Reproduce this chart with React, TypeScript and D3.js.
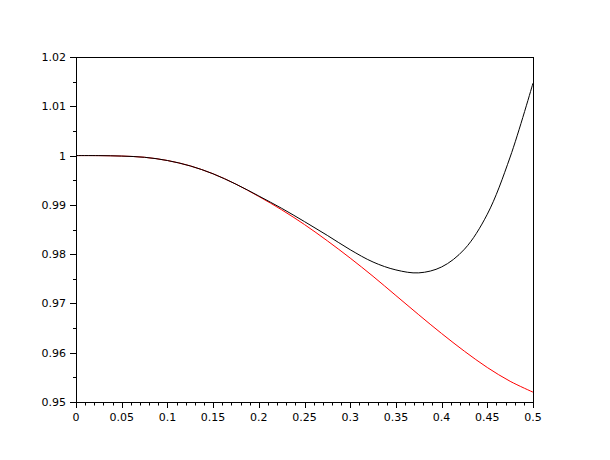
import React from "react";
import * as d3 from "d3";

const xs = [0, 0.025, 0.05, 0.075, 0.1, 0.125, 0.15, 0.175, 0.2, 0.225, 0.25, 0.275, 0.3, 0.325, 0.35, 0.375, 0.4, 0.425, 0.45, 0.475, 0.5];
const blackValues = [1.0, 0.99999, 0.9999, 0.99965, 0.999, 0.9979, 0.9963, 0.9942, 0.9918, 0.9893, 0.9866, 0.9838, 0.9809, 0.9784, 0.9768, 0.9762, 0.9774, 0.9810, 0.9881, 0.9997, 1.0147];
const redValues = [1.0, 0.99999, 0.9999, 0.99965, 0.999, 0.9979, 0.9963, 0.9942, 0.9917, 0.989, 0.986, 0.9827, 0.9792, 0.9755, 0.9716, 0.9677, 0.9639, 0.9603, 0.957, 0.9542, 0.952];
const xTicks = [0, 0.05, 0.1, 0.15, 0.2, 0.25, 0.3, 0.35, 0.4, 0.45, 0.5];
const yTicks = [0.95, 0.96, 0.97, 0.98, 0.99, 1, 1.01, 1.02];

export default function App() {
  const W = 610, H = 460;
  const left = 76, right = 533, top = 57, bottom = 402;
  const x = d3.scaleLinear().domain([0, 0.5]).range([left, right]);
  const y = d3.scaleLinear().domain([0.95, 1.02]).range([bottom, top]);
  const line = d3
    .line<number>()
    .x((_, i) => x(xs[i]))
    .y((d) => y(d))
    .curve(d3.curveCatmullRom.alpha(0.5));
  const xMinor = d3.range(0, 0.5001, 0.01);
  const yMinor = d3.range(0.95, 1.0201, 0.005);
  const font = "DejaVu Sans, sans-serif";
  return (
    <svg width={W} height={H} style={{ position: "absolute", left: 0, top: 0, background: "#fff" }}>
      <rect x={0} y={0} width={W} height={H} fill="#fff" />
      <path d={line(redValues) || ""} fill="none" stroke="#ff0000" strokeWidth={1} />
      <path d={line(blackValues) || ""} fill="none" stroke="#000" strokeWidth={1} />
      <rect x={left + 0.5} y={top + 0.5} width={right - left} height={bottom - top} fill="none" stroke="#000" strokeWidth={1} />
      {xMinor.map((v, i) => (
        <line key={"xm" + i} x1={Math.round(x(v)) + 0.5} x2={Math.round(x(v)) + 0.5} y1={bottom + 0.5} y2={bottom + 3.5} stroke="#000" />
      ))}
      {xTicks.map((v, i) => (
        <g key={"xt" + i}>
          <line x1={Math.round(x(v)) + 0.5} x2={Math.round(x(v)) + 0.5} y1={bottom + 0.5} y2={bottom + 6} stroke="#000" />
          <text x={x(v)} y={bottom + 19} textAnchor="middle" fontFamily={font} fontSize={11} fill="#000">
            {String(v)}
          </text>
        </g>
      ))}
      {yMinor.map((v, i) => (
        <line key={"ym" + i} x1={left - 3} x2={left + 0.5} y1={Math.round(y(v)) + 0.5} y2={Math.round(y(v)) + 0.5} stroke="#000" />
      ))}
      {yTicks.map((v, i) => (
        <g key={"yt" + i}>
          <line x1={left - 6} x2={left + 0.5} y1={Math.round(y(v)) + 0.5} y2={Math.round(y(v)) + 0.5} stroke="#000" />
          <text x={left - 10} y={y(v) + 4} textAnchor="end" fontFamily={font} fontSize={11} fill="#000">
            {String(v)}
          </text>
        </g>
      ))}
    </svg>
  );
}
